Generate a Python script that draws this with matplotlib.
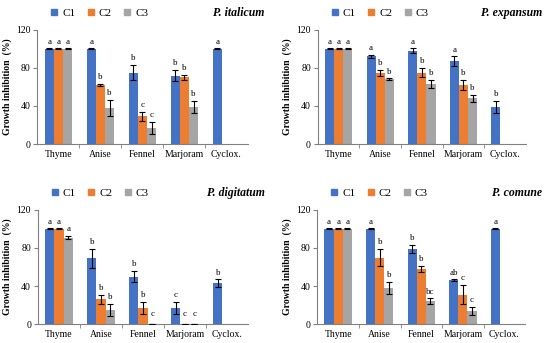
import numpy as np
import matplotlib
matplotlib.use('Agg')
import matplotlib.pyplot as plt
from matplotlib.lines import Line2D

categories = ['Thyme', 'Anise', 'Fennel', 'Marjoram', 'Cyclox.']
series = ['C1', 'C2', 'C3']
nan = np.nan

# P. italicum
ita_mean = [[100, 100, 75, 72, 100], [100, 62, 29, 70, nan], [100, 38, 17, 39, nan]]
ita_err = [[0.5, 0.5, 8, 6, 0.5], [0.5, 1, 5, 3, nan], [0.5, 8, 6, 6, nan]]
ita_let = [['a', 'a', 'b', 'b', 'a'], ['a', 'b', 'c', 'b', ''], ['a', 'b', 'c', 'b', '']]
# P. expansum
exp_mean = [[100, 92, 98, 87, 39], [100, 75, 75, 62, nan], [100, 68, 63, 48, nan]]
exp_err = [[0.5, 1.5, 2.5, 5, 6], [0.5, 3, 5, 5, nan], [0.5, 1, 4, 4, nan]]
exp_let = [['a', 'a', 'a', 'a', 'b'], ['a', 'b', 'b', 'b', ''], ['a', 'b', 'b', 'b', '']]
# P. digitatum
dig_mean = [[100, 69, 50, 17, 43], [100, 26, 17, 0, nan], [91, 15, 0, 0, nan]]
dig_err = [[0.5, 10, 6, 6, 4], [0.5, 5, 6, 0, nan], [2, 6, 0, 0, nan]]
dig_let = [['a', 'b', 'b', 'c', 'b'], ['a', 'b', 'b', 'c', ''], ['a', 'b', 'c', 'c', '']]
# P. comune
com_mean = [[100, 100, 79, 46, 100], [100, 70, 58, 31, nan], [100, 38, 24, 14, nan]]
com_err = [[0.5, 0.5, 4, 1, 0.5], [0.5, 9, 3, 10, nan], [0.5, 6, 3, 4, nan]]
com_let = [['a', 'a', 'b', 'ab', 'a'], ['a', 'b', 'b', 'c', ''], ['a', 'b', 'bc', 'c', '']]

titles = ['P. italicum', 'P. expansum', 'P. digitatum', 'P. comune']
colors = ['#4472C4', '#ED7D31', '#A5A5A5']

plt.rcParams['font.family'] = ['Liberation Serif', 'DejaVu Serif']

fig = plt.figure(figsize=(5.5, 3.43), dpi=100)
boxes = [[0.068, 0.580, 0.382, 0.333], [0.578, 0.580, 0.378, 0.333],
         [0.069, 0.055, 0.382, 0.333], [0.577, 0.055, 0.378, 0.333]]
panels = [(ita_mean, ita_err, ita_let), (exp_mean, exp_err, exp_let),
          (dig_mean, dig_err, dig_let), (com_mean, com_err, com_let)]

x = np.arange(len(categories))
w = 0.22
for box, (mean, err, let), title in zip(boxes, panels, titles):
    ax = fig.add_axes(box)
    for i in range(3):
        m = np.array(mean[i], dtype=float)
        e = np.array(err[i], dtype=float)
        xs = x + (i - 1) * w
        ax.bar(xs, m, w, color=colors[i], zorder=2)
        ax.errorbar(xs, m, yerr=e, fmt='none', ecolor='black', elinewidth=0.8,
                    capsize=2.2, capthick=0.8, zorder=3)
        for xx, mm, ee, t in zip(xs, m, e, let[i]):
            if not t:
                continue
            if mm == 0:
                ax.text(xx, 6, t, ha='center', va='bottom', fontsize=6.5)
            else:
                ax.text(xx, mm + ee + 3, t, ha='center', va='bottom', fontsize=6.5)
    ax.set_xlim(-0.5, 4.5)
    ax.set_ylim(0, 120)
    ax.set_yticks([0, 40, 80, 120])
    ax.set_xticks(x)
    ax.set_xticklabels(categories)
    ax.set_xticks(np.arange(0.5, 4.5, 1), minor=True)
    ax.tick_params(axis='x', which='major', length=0, labelsize=7, pad=4)
    ax.tick_params(axis='x', which='minor', length=3, color='#808080', direction='out')
    ax.tick_params(axis='y', length=3, color='#808080', labelsize=7, pad=2)
    for s in ['top', 'right']:
        ax.spines[s].set_visible(False)
    for s in ['left', 'bottom']:
        ax.spines[s].set_color('#808080')
        ax.spines[s].set_linewidth(0.8)
    ax.set_ylabel('Growth inhibition  (%)', fontsize=7, fontweight='bold', labelpad=3)
    ax.text(1.08, 1.15, title, transform=ax.transAxes, ha='right', va='center',
            fontsize=8.5, fontweight='bold', fontstyle='italic')
    handles = [Line2D([], [], marker='s', linestyle='none', markersize=5,
                      color=c) for c in colors]
    ax.legend(handles, series, loc='center left', bbox_to_anchor=(0.06, 1.15),
              ncol=3, frameon=False, fontsize=8, handlelength=0.8,
              handletextpad=0.3, columnspacing=1.0, borderaxespad=0, borderpad=0)

plt.savefig('out.png', dpi=100)
